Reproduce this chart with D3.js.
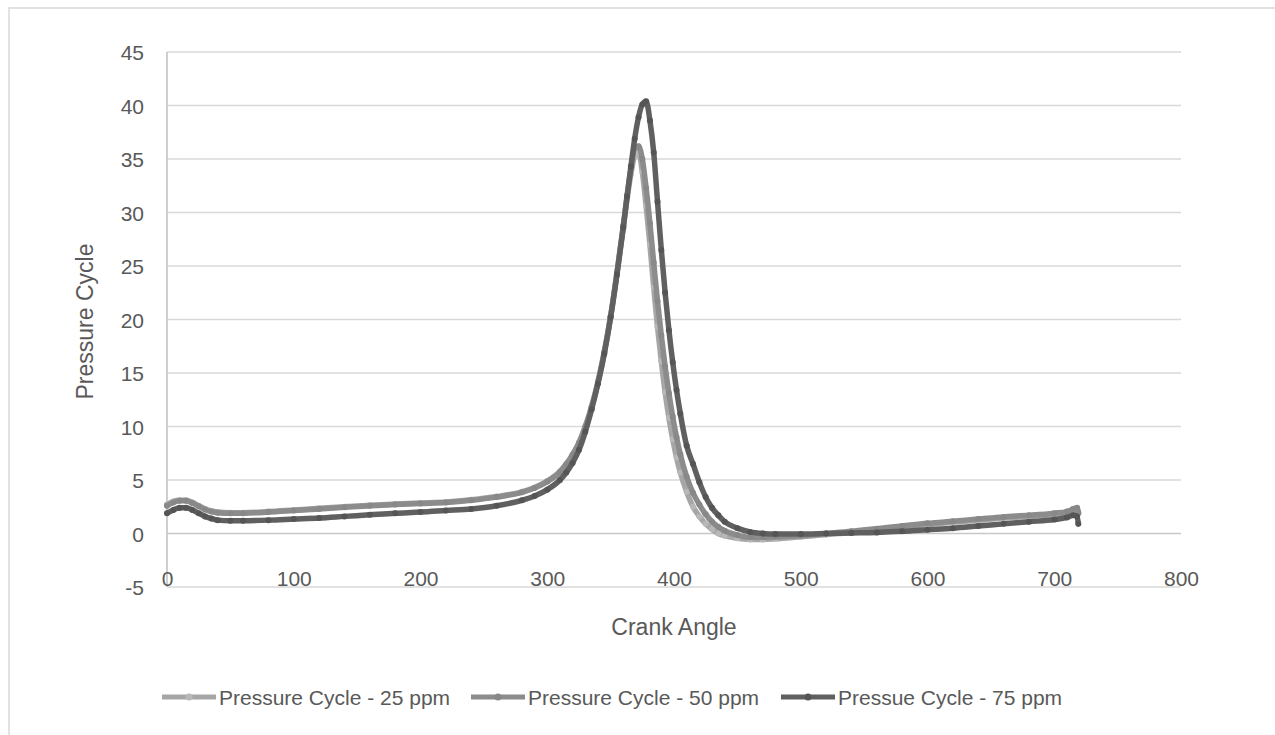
<!DOCTYPE html>
<html>
<head>
<meta charset="utf-8">
<script src="https://cdn.jsdelivr.net/npm/d3@7"></script>
<style>
  body { margin: 0; background: #fff; }
  svg { display: block; font-family: "Liberation Sans", Arial, sans-serif; }
</style>
</head>
<body>
<div id="chart"></div>
<script>
// Data
const angles = [0, 5, 10, 15, 20, 25, 30, 35, 40, 50, 60, 80, 100, 120, 140, 160, 180, 200, 220, 240,
  260, 280, 290, 300, 310, 315, 320, 325, 330, 335, 340, 345, 350, 355, 360, 363, 366, 369, 372, 375,
  378, 381, 384, 387, 390, 393, 396, 399, 402, 405, 410, 415, 420, 425, 430, 435, 440, 450, 460, 470,
  480, 500, 520, 540, 560, 580, 600, 620, 640, 660, 680, 700, 710, 715, 718, 719];

const p25 = [2.7, 3.0, 3.1, 3.1, 2.9, 2.6, 2.3, 2.1, 2.0, 1.95, 1.95, 2.05, 2.2, 2.35, 2.5, 2.65, 2.75, 2.85, 2.95, 3.15,
  3.45, 3.9, 4.3, 4.9, 5.8, 6.5, 7.4, 8.5, 10.0, 11.9, 14.2, 17.0, 20.3, 24.3, 28.6, 31.3, 33.6, 35.3, 35.6, 33.8,
  30.6, 27.0, 23.0, 19.3, 16.1, 13.2, 10.8, 8.8, 7.1, 5.7, 3.9, 2.5, 1.6, 0.9, 0.4, 0.0, -0.2, -0.45, -0.55, -0.55,
  -0.5, -0.3, -0.1, 0.1, 0.35, 0.6, 0.85, 1.05, 1.25, 1.45, 1.6, 1.8, 1.95, 2.2, 2.3, 2.0];

const p50 = [2.6, 2.9, 3.05, 3.05, 2.85, 2.55, 2.25, 2.05, 1.95, 1.9, 1.9, 2.0, 2.15, 2.3, 2.45, 2.6, 2.7, 2.8, 2.9, 3.1,
  3.4, 3.85, 4.25, 4.85, 5.75, 6.45, 7.35, 8.45, 9.95, 11.8, 14.1, 16.9, 20.3, 24.4, 28.8, 31.6, 34.1, 36.0, 36.2, 35.0,
  32.3, 29.0, 25.3, 21.7, 18.5, 15.6, 13.1, 10.9, 9.0, 7.4, 5.3, 3.8, 2.7, 1.8, 1.1, 0.6, 0.25, -0.15, -0.35, -0.35,
  -0.3, -0.2, 0.0, 0.2, 0.45, 0.7, 0.95, 1.15, 1.35, 1.55, 1.7, 1.9, 2.05, 2.3, 2.4, 1.9];

const p75 = [1.9, 2.2, 2.4, 2.4, 2.2, 1.9, 1.6, 1.4, 1.25, 1.2, 1.2, 1.25, 1.35, 1.45, 1.6, 1.75, 1.9, 2.0, 2.15, 2.3,
  2.6, 3.1, 3.5, 4.1, 5.0, 5.7, 6.6, 7.8, 9.5, 11.6, 14.0, 16.8, 20.2, 24.2, 28.6, 31.5, 34.3, 36.9, 38.9, 40.1,
  40.4, 38.6, 35.6, 31.0, 26.5, 22.5, 19.0, 16.0, 13.4, 11.2, 8.2, 6.5, 4.8, 3.4, 2.4, 1.7, 1.1, 0.5, 0.15, 0.0,
  -0.05, -0.05, 0.0, 0.05, 0.1, 0.2, 0.35, 0.5, 0.7, 0.9, 1.1, 1.3, 1.5, 1.7, 1.6, 0.9];

const seriesNames = ["Pressure Cycle - 25 ppm", "Pressure Cycle - 50 ppm", "Pressue Cycle - 75 ppm"];
const seriesValues = [p25, p50, p75];
const xTicks = [0, 100, 200, 300, 400, 500, 600, 700, 800];
const yTicks = [-5, 0, 5, 10, 15, 20, 25, 30, 35, 40, 45];

// Layout
const w = 1275, h = 735;
const plot = { left: 167, right: 1181, top: 52, bottom: 587 };
const lineColors = ["#a6a6a6", "#8c8c8c", "#606060"];
const markerColors = ["#b8b8b8", "#888888", "#555555"];
const textColor = "#595959";

const x = d3.scaleLinear().domain([0, 800]).range([plot.left, plot.right]);
const y = d3.scaleLinear().domain([-5, 45]).range([plot.bottom, plot.top]);

const svg = d3.select("#chart").append("svg")
  .attr("width", w)
  .attr("height", h);

// chart area border
svg.append("rect")
  .attr("x", 9).attr("y", 8)
  .attr("width", w + 10).attr("height", h + 10)
  .attr("fill", "#fff")
  .attr("stroke", "#d9d9d9")
  .attr("stroke-width", 1.5);

// gridlines
svg.append("g")
  .selectAll("line")
  .data(yTicks)
  .join("line")
  .attr("x1", plot.left).attr("x2", plot.right)
  .attr("y1", d => y(d)).attr("y2", d => y(d))
  .attr("stroke", d => d === 0 ? "#c8c8c8" : "#d9d9d9")
  .attr("stroke-width", 1.3);

// vertical axis line
svg.append("line")
  .attr("x1", x(0)).attr("x2", x(0))
  .attr("y1", plot.top).attr("y2", plot.bottom)
  .attr("stroke", "#bfbfbf")
  .attr("stroke-width", 1.5);

// y axis
const yAxis = d3.axisLeft(y).tickValues(yTicks).tickFormat(d => String(d)).tickSize(0).tickPadding(0);
svg.append("g")
  .attr("transform", `translate(${plot.left - 23},0)`)
  .call(yAxis)
  .call(g => g.select(".domain").remove())
  .selectAll("text")
  .attr("fill", textColor)
  .style("font-size", "21px")
  .attr("dy", "0.36em");

// x axis labels sit just under the zero line
const xAxis = d3.axisBottom(x).tickValues(xTicks).tickFormat(d => String(d)).tickSize(0).tickPadding(0);
svg.append("g")
  .attr("transform", `translate(0,${y(0) + 52})`)
  .call(xAxis)
  .call(g => g.select(".domain").remove())
  .selectAll("text")
  .attr("fill", textColor)
  .style("font-size", "21px")
  .attr("dy", 0);

// axis titles
svg.append("text")
  .attr("transform", `translate(93,${(plot.top + plot.bottom) / 2 + 2}) rotate(-90)`)
  .attr("text-anchor", "middle")
  .attr("fill", textColor)
  .style("font-size", "23px")
  .text("Pressure Cycle");

svg.append("text")
  .attr("x", (plot.left + plot.right) / 2)
  .attr("y", 635)
  .attr("text-anchor", "middle")
  .attr("fill", textColor)
  .style("font-size", "23px")
  .text("Crank Angle");

// series
const line = d3.line()
  .x(d => x(d[0]))
  .y(d => y(d[1]))
  .curve(d3.curveMonotoneX);

seriesValues.forEach((vals, i) => {
  const pts = angles.map((a, j) => [a, vals[j]]);
  const g = svg.append("g");
  g.append("path")
    .datum(pts)
    .attr("d", line)
    .attr("fill", "none")
    .attr("stroke", lineColors[i])
    .attr("stroke-width", 5.5)
    .attr("stroke-linejoin", "round")
    .attr("stroke-linecap", "round");
  g.selectAll("circle")
    .data(pts)
    .join("circle")
    .attr("cx", d => x(d[0]))
    .attr("cy", d => y(d[1]))
    .attr("r", 3)
    .attr("fill", markerColors[i]);
});

// legend
const legendX = [162, 471, 781];
const legendY = 697;
const legend = svg.append("g");
seriesNames.forEach((name, i) => {
  const item = legend.append("g").attr("transform", `translate(${legendX[i]},${legendY})`);
  item.append("line")
    .attr("x1", 0).attr("x2", 54)
    .attr("stroke", lineColors[i])
    .attr("stroke-width", 5);
  item.append("circle")
    .attr("cx", 27).attr("r", 3.5)
    .attr("fill", markerColors[i]);
  item.append("text")
    .attr("x", 57)
    .attr("dy", "0.36em")
    .attr("fill", textColor)
    .style("font-size", "21px")
    .text(name);
});
</script>
</body>
</html>
